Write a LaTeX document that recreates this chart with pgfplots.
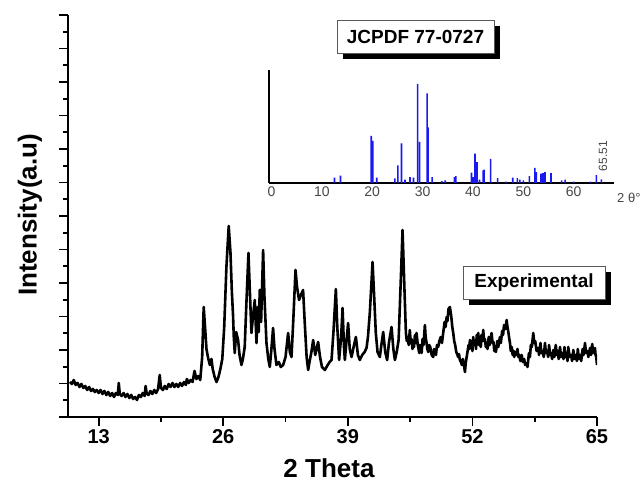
\documentclass[border=0pt]{standalone}
\usepackage{fontspec}
\setmainfont{Liberation Sans}
\usepackage{pgfplots}
\pgfplotsset{compat=1.18}

\definecolor{barblue}{RGB}{25,25,240}
\definecolor{lblgray}{RGB}{70,70,70}

\begin{document}
\begin{tikzpicture}
\path[use as bounding box] (-68pt,-67pt) rectangle (575pt,417pt);
% main pattern
\begin{axis}[
  at={(0pt,0pt)}, anchor=south west,
  scale only axis, width=529pt, height=402pt,
  xmin=9.8, xmax=65, ymin=0, ymax=402,
  axis x line=bottom, axis y line=left,
  axis line style={-, line width=2.2pt},
  xtick={13,26,39,52,65}, minor x tick num=1,
  ytick={0,33.5,...,403}, yticklabels={}, minor y tick num=1,
  tick align=outside, major tick length=9pt, minor tick length=5pt,
  every tick/.style={black, line width=1.8pt},
  xticklabel style={font=\bfseries\fontsize{20}{24}\selectfont},
  /pgf/number format/assume math mode=true,
]
\addplot[black, line width=2.6pt, line join=round] coordinates {
(10.0,35)(10.2,33)(10.4,37)(10.6,32)(10.8,34)(11.0,30)(11.2,33)(11.4,29)(11.6,31)(11.8,27)
(12.0,30)(12.2,26)(12.4,28)(12.6,25)(12.8,27)(13.0,24)(13.2,27)(13.4,23)(13.6,26)(13.8,22)
(14.0,25)(14.2,21)(14.4,24)(14.6,20)(14.8,24)(15.0,22)(15.1,34)(15.2,23)(15.4,21)(15.6,24)
(15.8,20)(16.0,23)(16.2,19)(16.4,22)(16.6,18)(16.8,20)(17.0,17)(17.2,22)(17.4,20)(17.6,24)
(17.8,21)(17.9,31)(18.0,24)(18.2,22)(18.4,26)(18.6,23)(18.8,27)(19.0,24)(19.2,28)(19.37,42)
(19.5,29)(19.7,27)(19.9,31)(20.1,28)(20.3,33)(20.5,30)(20.7,34)(20.9,30)(21.1,33)(21.3,30)
(21.5,34)(21.7,31)(21.9,35)(22.1,32)(22.2,38)(22.4,34)(22.6,37)(22.8,35)(23.0,46)(23.2,38)
(23.4,41)(23.6,37)(23.8,60)(23.96,110)(24.1,90)(24.25,68)(24.4,60)(24.6,52)(24.77,58)(24.9,48)
(25.1,40)(25.3,35)(25.5,40)(25.7,48)(25.9,58)(26.1,90)(26.33,150)(26.57,191)(26.75,165)(26.9,125)
(27.02,102)(27.1,80)(27.2,64)(27.35,85)(27.55,77)(27.7,62)(27.9,52)(28.05,58)(28.24,70)(28.4,110)
(28.63,164)(28.8,120)(28.94,84)(29.1,100)(29.29,117)(29.4,90)(29.47,74)(29.6,110)(29.7,85)(29.81,127)
(29.95,95)(30.16,167)(30.3,120)(30.51,74)(30.7,58)(30.86,50)(31.0,65)(31.2,89)(31.35,68)(31.55,52)
(31.8,55)(32.0,50)(32.25,52)(32.5,60)(32.77,84)(32.95,65)(33.12,60)(33.3,95)(33.54,147)(33.7,130)
(33.91,117)(34.1,122)(34.33,127)(34.5,95)(34.7,60)(34.86,47)(35.0,55)(35.2,65)(35.38,77)(35.6,62)
(35.9,75)(36.1,60)(36.3,50)(36.6,47)(36.9,52)(37.1,55)(37.3,57)(37.5,85)(37.75,128)(37.9,90)
(38.09,57)(38.3,80)(38.45,109)(38.6,70)(38.69,57)(38.85,75)(39.03,94)(39.2,68)(39.39,60)(39.6,70)
(39.84,80)(40.05,62)(40.25,57)(40.5,62)(40.75,65)(40.95,69)(41.1,80)(41.3,105)(41.58,155)(41.75,120)
(41.92,84)(42.1,65)(42.34,60)(42.5,72)(42.69,85)(42.9,65)(43.1,57)(43.3,75)(43.56,90)(43.75,68)
(43.91,57)(44.1,65)(44.3,77)(44.5,130)(44.71,187)(44.9,130)(45.06,84)(45.15,76)(45.25,80)(45.35,72)
(45.47,87)(45.56,74)(45.65,78)(45.74,68)(45.82,74)(45.9,70)(46.0,82)(46.1,74)(46.17,84)(46.3,72)
(46.38,68)(46.45,64)(46.52,72)(46.6,70)(46.7,64)(46.8,78)(46.9,72)(47.04,92)(47.12,80)(47.2,75)
(47.3,68)(47.39,65)(47.5,72)(47.6,70)(47.75,62)(47.91,60)(48.0,68)(48.1,66)(48.2,62)(48.3,72)
(48.43,70)(48.55,76)(48.7,80)(48.82,74)(48.95,84)(49.1,95)(49.2,90)(49.31,100)(49.4,96)(49.5,108)
(49.65,110)(49.8,100)(49.9,90)(50.0,84)(50.1,76)(50.2,72)(50.3,66)(50.35,64)(50.45,62)(50.5,60)
(50.6,63)(50.69,57)(50.8,55)(50.9,52)(51.0,58)(51.05,55)(51.15,50)(51.22,45)(51.3,54)(51.4,60)
(51.5,66)(51.6,72)(51.67,68)(51.74,77)(51.82,70)(51.9,72)(52.0,66)(52.08,80)(52.17,72)(52.3,74)
(52.38,68)(52.45,82)(52.53,74)(52.61,84)(52.7,72)(52.8,75)(52.88,70)(52.95,82)(53.05,76)(53.13,87)
(53.22,76)(53.3,78)(53.4,70)(53.48,74)(53.58,68)(53.7,80)(53.8,72)(53.9,78)(54.0,84)(54.1,74)
(54.2,75)(54.28,66)(54.35,70)(54.45,65)(54.6,76)(54.7,70)(54.87,80)(54.97,74)(55.1,86)(55.2,82)
(55.3,92)(55.45,88)(55.57,97)(55.66,90)(55.75,85)(55.85,78)(55.92,74)(56.0,66)(56.1,70)(56.2,62)
(56.3,66)(56.37,60)(56.44,65)(56.55,62)(56.7,68)(56.8,60)(56.9,62)(57.0,56)(57.14,62)(57.25,55)
(57.4,58)(57.5,52)(57.66,54)(57.75,50)(57.9,64)(58.0,60)(58.1,72)(58.2,70)(58.35,84)(58.45,74)
(58.55,76)(58.7,66)(58.87,69)(58.95,62)(59.1,74)(59.2,64)(59.3,66)(59.45,60)(59.57,74)(59.67,64)
(59.8,66)(59.9,60)(60.0,72)(60.1,62)(60.2,64)(60.32,58)(60.44,67)(60.55,60)(60.7,72)(60.8,62)
(60.9,66)(61.0,58)(61.14,70)(61.25,60)(61.4,64)(61.5,58)(61.6,70)(61.7,60)(61.84,64)(61.92,56)
(62.0,70)(62.15,60)(62.3,62)(62.4,56)(62.53,67)(62.65,58)(62.8,62)(62.9,56)(63.0,68)(63.1,58)
(63.23,62)(63.35,56)(63.5,68)(63.6,62)(63.75,74)(63.85,64)(64.0,66)(64.1,60)(64.27,69)(64.38,62)
(64.5,73)(64.6,64)(64.79,69)(64.85,62)(64.92,60)(65.0,52)
};
\end{axis}
% reference pattern inset
\begin{axis}[
  at={(201pt,234pt)}, anchor=south west,
  scale only axis, width=345pt, height=113pt,
  xmin=-0.5, xmax=68, ymin=0, ymax=114,
  axis x line=bottom, axis y line=left,
  axis line style={-, line width=1.6pt},
  ytick=\empty, xtick={0,10,...,60}, major tick length=0pt,
  xticklabel style={font=\fontsize{14}{16}\selectfont, text=lblgray},
  /pgf/number format/assume math mode=true,
  clip=false,
]
\addplot[ybar, bar width=1.6pt, fill=barblue, draw=none] coordinates {
(12.5,5.4)(13.7,7.4)(19.8,47.6)(20.1,42.6)(20.9,5.4)(24.5,4.7)(25.1,17.9)(25.8,39.9)
(26.5,3.4)(27.5,6)(28.2,5.4)(29.0,100)(29.4,41.6)(30.9,90.5)(31.1,56)(31.9,6)
(33.8,2)(34.5,2.7)(36.3,6)(36.6,7)(39.7,10.5)(40.0,6)(40.4,29.7)(40.8,21)(41.3,3.4)
(42.0,12.8)(42.2,13.5)(43.5,24.3)(44.9,5)(46.5,1.4)(47.9,5.4)(48.8,5)(49.3,3.4)(50.0,2.7)
(51.2,7)(52.3,15.2)(52.6,11)(53.5,9.5)(53.9,10)(54.3,11)(55.5,10)(57.6,2.7)(58.3,3.4)
(60.0,1.4)(63.3,1.4)(64.5,8)(65.5,3.7)
};
\node[rotate=90, font=\fontsize{12}{14}\selectfont, text=lblgray] at (axis cs:65.8,27) {65.51};
\end{axis}
% labels
\node[font=\bfseries\fontsize{26}{30}\selectfont, rotate=90] at (-38pt,202pt) {Intensity(a.u)};
\node[font=\bfseries\fontsize{26}{30}\selectfont] at (261pt,-51pt) {2 Theta};
\node[font=\fontsize{13}{15}\selectfont, text=lblgray, anchor=west, inner sep=1pt] at (548pt,219pt) {2 θ°};
% boxes
\fill[black] (401pt,112pt) rectangle (543pt,145pt);
\draw[fill=white, draw=gray!70!black, line width=0.8pt] (395pt,118pt) rectangle (537pt,151pt);
\node[font=\bfseries\fontsize{19}{22}\selectfont] at (466pt,134.5pt) {Experimental};
\fill[black] (275pt,358pt) rectangle (432pt,391pt);
\draw[fill=white, draw=gray!70!black, line width=0.8pt] (269pt,364pt) rectangle (426pt,397pt);
\node[font=\bfseries\fontsize{19}{22}\selectfont] at (347.5pt,380.5pt) {JCPDF 77-0727};
\end{tikzpicture}
\end{document}
